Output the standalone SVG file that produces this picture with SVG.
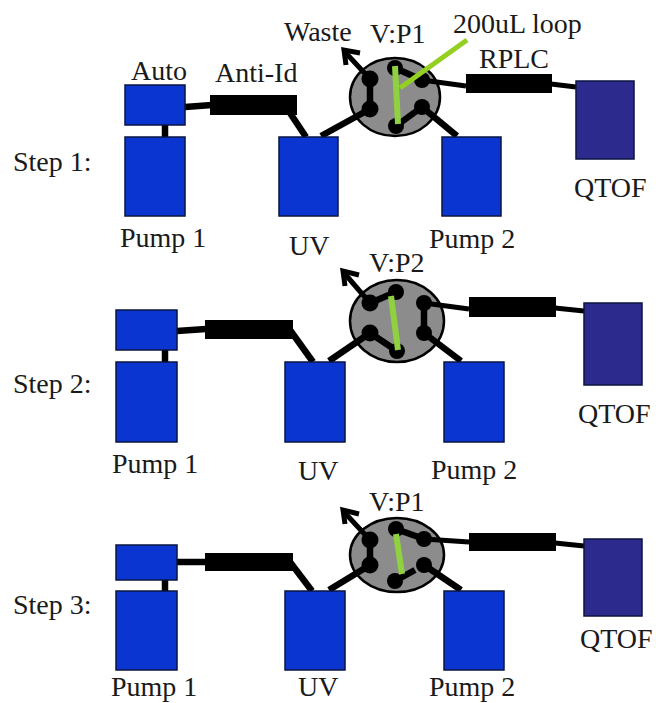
<svg xmlns="http://www.w3.org/2000/svg" width="656" height="703" viewBox="0 0 656 703">
<style>
text{font-family:"Liberation Serif","Times New Roman",serif;font-size:28px;fill:#1a1a1a}
.b{fill:#0a35d0;stroke:#0a1440;stroke-width:1.5}
.q{fill:#2c2a8c;stroke:#0a1440;stroke-width:1.5}
.c{fill:#000}
.l{fill:none;stroke:#000;stroke-width:6.5}
.t{fill:none;stroke:#000;stroke-width:5}
.v{fill:#8c8c8c;stroke:#000;stroke-width:2.5}
.g{stroke:#8fd13f;stroke-width:6;fill:none}
</style>
<rect width="656" height="703" fill="#fff"/>
<g id="valve1"><ellipse class="v" cx="395" cy="97" rx="45" ry="39"/>
<circle class="c" cx="395" cy="68" r="8"/><circle class="c" cx="370" cy="79" r="8.5"/><circle class="c" cx="370" cy="109" r="8.5"/><circle class="c" cx="396" cy="126" r="8"/><circle class="c" cx="422" cy="107" r="8"/><circle class="c" cx="422" cy="80" r="8"/></g>
<g id="valve2"><ellipse class="v" cx="397" cy="321" rx="47" ry="41"/>
<circle class="c" cx="396" cy="292" r="8"/><circle class="c" cx="370" cy="303" r="8.5"/><circle class="c" cx="370" cy="333" r="8.5"/><circle class="c" cx="397" cy="351" r="8"/><circle class="c" cx="424" cy="333" r="8"/><circle class="c" cx="424" cy="303" r="8"/></g>
<g id="valve3"><ellipse class="v" cx="397" cy="555" rx="47" ry="37"/>
<circle class="c" cx="396" cy="529" r="8"/><circle class="c" cx="370" cy="540" r="8.5"/><circle class="c" cx="370" cy="565" r="8.5"/><circle class="c" cx="395" cy="581" r="8"/><circle class="c" cx="424" cy="565" r="8"/><circle class="c" cx="424" cy="539" r="8"/></g>
<g id="connectors">
<path class="l" d="M165 125V137"/>
<path class="l" d="M185 107L212 105"/>
<path class="l" d="M290 113L306 137"/>
<path class="l" d="M321 136L370 109"/>
<path class="l" d="M422 107L457 136"/>
<path class="t" d="M422 80L466 86"/>
<path class="t" d="M551 84L576 87"/>
<path class="t" d="M370 79L345 52"/>
<path class="t" d="M346 65L344 50L360 53"/>
<path class="l" d="M370 79V109"/>
<path class="l" d="M395 68L422 80"/>
<path class="l" d="M396 126L422 107"/>
<path class="l" d="M165 350V362"/>
<path class="l" d="M177 331L206 329"/>
<path class="l" d="M290 330L313 362"/>
<path class="l" d="M329 361L370 333"/>
<path class="l" d="M424 333L461 361"/>
<path class="t" d="M424 303L469 309"/>
<path class="t" d="M555 308L584 311"/>
<path class="t" d="M370 303L345 274"/>
<path class="t" d="M345 286L343 271L359 275"/>
<path class="l" d="M370 303L396 292"/>
<path class="l" d="M370 333L397 351"/>
<path class="l" d="M424 303L424 333"/>
<path class="l" d="M165 580V591"/>
<path class="l" d="M177 562H206"/>
<path class="l" d="M290 562L312 591"/>
<path class="l" d="M329 590L370 565"/>
<path class="l" d="M424 565L461 590"/>
<path class="t" d="M424 539L469 542"/>
<path class="t" d="M555 543L584 546"/>
<path class="t" d="M370 540L345 513"/>
<path class="t" d="M345 524L343 510L359 514"/>
<path class="l" d="M370 540V565"/>
<path class="l" d="M396 529L424 539"/>
<path class="l" d="M395 581L415 570"/>
<path class="g" d="M395 66L398 124"/><path d="M467 40L400 88" fill="none" stroke="#93d022" stroke-width="5"/>
<path class="g" d="M391 296L398 350"/>
<path class="g" d="M396 534L402 574"/>
</g>
<g id="s1"><rect class="b" x="125" y="85" width="60" height="40"/><rect class="b" x="125" y="137" width="60" height="79"/><rect class="c" x="210" y="95" width="87" height="20"/><rect class="b" x="279" y="137" width="59" height="79"/><rect class="b" x="442" y="137" width="59" height="79"/><rect class="c" x="466" y="74" width="86" height="19"/><rect class="q" x="576" y="81" width="58" height="78"/></g>
<g id="s2"><rect class="b" x="116" y="310" width="61" height="40"/><rect class="b" x="116" y="362" width="61" height="80"/><rect class="c" x="205" y="320" width="88" height="19"/><rect class="b" x="285" y="362" width="60" height="80"/><rect class="b" x="444" y="362" width="60" height="80"/><rect class="c" x="469" y="297" width="87" height="20"/><rect class="q" x="584" y="303" width="58" height="82"/></g>
<g id="s3"><rect class="b" x="116" y="545" width="61" height="35"/><rect class="b" x="116" y="591" width="61" height="79"/><rect class="c" x="205" y="553" width="88" height="18"/><rect class="b" x="285" y="591" width="60" height="79"/><rect class="b" x="444" y="591" width="60" height="79"/><rect class="c" x="469" y="533" width="87" height="18"/><rect class="q" x="584" y="539" width="58" height="77"/></g>
<g id="labels">
<text x="131" y="80">Auto</text><text x="215" y="82">Anti-Id</text><text x="284" y="41">Waste</text><text x="370" y="43">V:P1</text><text x="453" y="33">200uL loop</text><text x="479" y="68">RPLC</text>
<text x="13" y="171">Step 1:</text><text x="120" y="247">Pump 1</text><text x="289" y="255">UV</text><text x="429" y="248">Pump 2</text><text x="574" y="197">QTOF</text>
<text x="369" y="272">V:P2</text><text x="13" y="393">Step 2:</text><text x="112" y="473">Pump 1</text><text x="298" y="480">UV</text><text x="431" y="479">Pump 2</text><text x="578" y="423">QTOF</text>
<text x="369" y="511">V:P1</text><text x="13" y="614">Step 3:</text><text x="111" y="696">Pump 1</text><text x="298" y="696">UV</text><text x="429" y="696">Pump 2</text><text x="580" y="648">QTOF</text>
</g>
</svg>
